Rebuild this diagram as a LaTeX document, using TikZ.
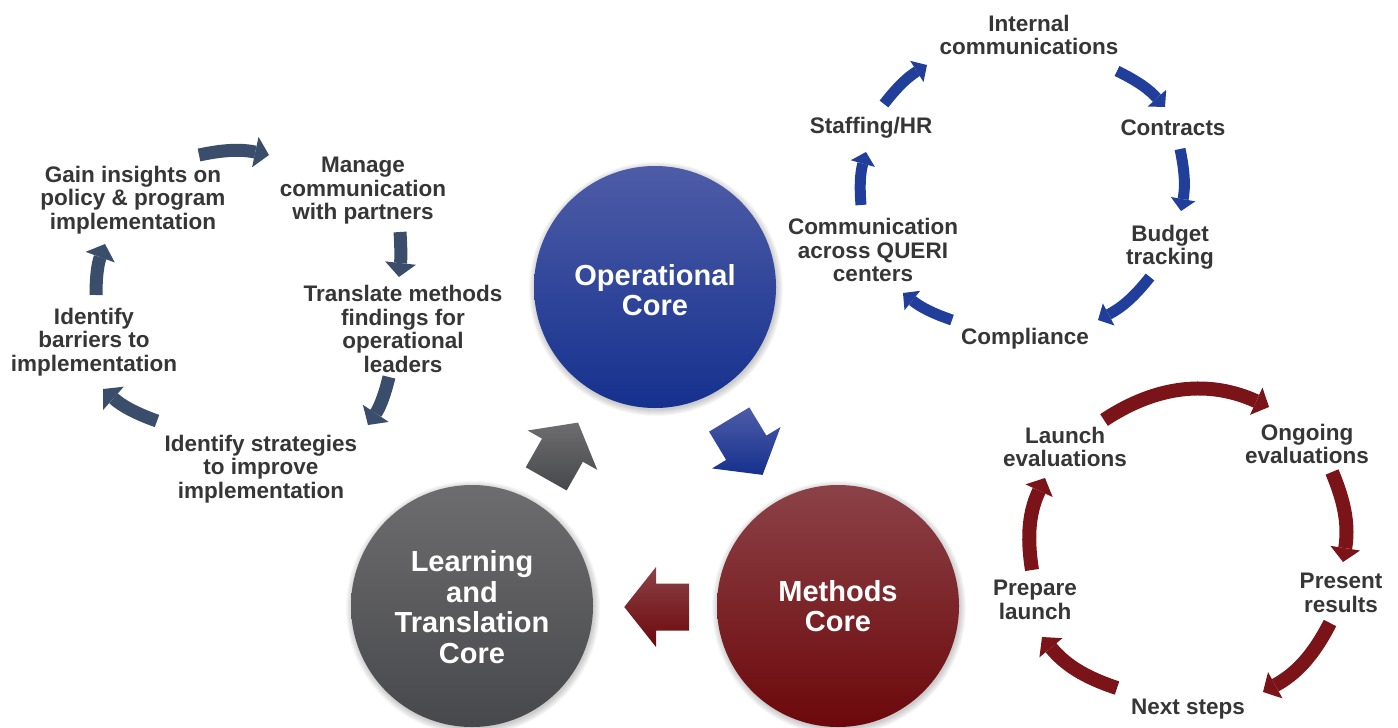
\documentclass[tikz,border=0pt]{standalone}
\usepackage{fontspec}
\setmainfont{Liberation Sans}
\usetikzlibrary{arrows.meta,calc}
\definecolor{txt}{HTML}{363636}
\definecolor{slate}{HTML}{3A4D6B}
\definecolor{blu}{HTML}{213E9B}
\definecolor{rd}{HTML}{7B1418}
\definecolor{opT}{HTML}{4E5CA7}
\definecolor{opM}{HTML}{213C9F}
\definecolor{opB}{HTML}{15318E}
\definecolor{ltT}{HTML}{6D6D6F}
\definecolor{ltB}{HTML}{47484B}
\definecolor{meT}{HTML}{8B4247}
\definecolor{meM}{HTML}{7A141A}
\definecolor{meB}{HTML}{6C080B}
\newcommand\blockarr[4]{%
  \path[top color=#3, bottom color=#4]
  ($(#1)+(#2+90:23.5)$) -- ($(#1)+(#2:33)+(#2+90:23.5)$) -- ($(#1)+(#2:33)+(#2+90:40)$) --
  ($(#1)+(#2:64.7)$) -- ($(#1)+(#2:33)+(#2-90:40)$) -- ($(#1)+(#2:33)+(#2-90:23.5)$) --
  ($(#1)+(#2-90:23.5)$) -- cycle;}
\newcommand\halo[1]{%
  \foreach \i in {1,...,7}{\fill[black,opacity=0.03] ($(#1)+(1,-2)$) circle[radius={120+\i}];}}
\begin{document}
\begin{tikzpicture}[x=1pt,y=1pt,
  lbl/.style={text=txt, font=\fontsize{22.5}{23.5}\selectfont\bfseries, align=center, inner sep=0pt},
  coretext/.style={text=white, font=\fontsize{29}{30.5}\selectfont\bfseries, align=center, inner sep=0pt},
  core/.style={circle, minimum size=242pt, inner sep=0pt},
  slatearr/.style={draw=slate, line width=13pt, -{Triangle[width=31pt,length=14pt,line width=0pt]}},
  bluarr/.style={draw=blu, line width=11pt, -{Triangle[width=25pt,length=12pt,line width=0pt]}},
  rdarr/.style={draw=rd, line width=14pt, -{Triangle[width=30pt,length=14pt,line width=0pt]}}]
\useasboundingbox (0,0) rectangle (1398,-728);

% core circles
\coordinate (opc) at (655,-287);
\coordinate (ltc) at (472,-606);
\coordinate (mec) at (838,-606);
\halo{opc}\halo{ltc}\halo{mec}
\node[core, top color=opT, middle color=opM, bottom color=opB] (op) at (opc) {};
\node[core, top color=ltT, bottom color=ltB] (lt) at (ltc) {};
\node[core, top color=meT, middle color=meM, bottom color=meB] (me) at (mec) {};
\node[coretext] (opt) at (655,-290) {Operational\\Core};
\node[coretext] (ltt) at (472,-607) {Learning\\and\\Translation\\Core};
\node[coretext] (met) at (838,-606) {Methods\\Core};

% block arrows between cores
\coordinate (ga) at (546.2,-478.9);
\coordinate (ba) at (729.2,-419.5);
\coordinate (ra) at (689,-607);
\blockarr{ga}{60.5}{ltT}{ltB}
\blockarr{ba}{-58.9}{opT}{opB}
\blockarr{ra}{180}{meT}{meB}

% left cycle
\node[lbl] (gain) at (133,-200) {Gain insights on\\policy \& program\\implementation};
\node[lbl] (manage) at (363,-191) {Manage\\communication\\with partners};
\node[lbl] (transl) at (403,-329) {Translate methods\\findings for\\operational\\leaders};
\node[lbl] (strat) at (261,-469) {Identify strategies\\to improve\\implementation};
\node[lbl] (barr) at (94,-342) {Identify\\barriers to\\implementation};
\coordinate (s1a) at (199,-155); \coordinate (s1b) at (269,-155);
\coordinate (s2a) at (400,-232); \coordinate (s2b) at (399,-277);
\coordinate (s3a) at (389,-377); \coordinate (s3b) at (368,-425);
\coordinate (s4a) at (157,-421); \coordinate (s4b) at (103,-389);
\coordinate (s5a) at (96,-295);  \coordinate (s5b) at (105,-244);
\draw[slatearr] (s1a) to[bend left=12] (s1b);
\draw[slatearr] (s2a) to[bend left=5] (s2b);
\draw[slatearr] (s3a) to[bend left=10] (s3b);
\draw[slatearr] (s4a) to[bend left=11] (s4b);
\draw[slatearr] (s5a) to[bend left=10] (s5b);

% top-right cycle
\node[lbl] (internal) at (1029,-35) {Internal\\communications};
\node[lbl] (contracts) at (1173,-128) {Contracts};
\node[lbl] (budget) at (1170,-247) {Budget\\tracking};
\node[lbl] (compl) at (1025,-339) {Compliance};
\node[lbl] (comm) at (873,-250) {Communication\\across QUERI\\centers};
\node[lbl] (staff) at (871,-128) {Staffing/HR};
\coordinate (b1a) at (884,-104);  \coordinate (b1b) at (927,-65);
\coordinate (b2a) at (1117,-71);  \coordinate (b2b) at (1165,-107);
\coordinate (b3a) at (1180,-149); \coordinate (b3b) at (1181,-211);
\coordinate (b4a) at (1150,-277); \coordinate (b4b) at (1098,-320);
\coordinate (b5a) at (952,-320);  \coordinate (b5b) at (903,-293);
\coordinate (b6a) at (861,-205);  \coordinate (b6b) at (866,-152);
\draw[bluarr] (b1a) to[bend left=10] (b1b);
\draw[bluarr] (b2a) to[bend left=11] (b2b);
\draw[bluarr] (b3a) to[bend left=11] (b3b);
\draw[bluarr] (b4a) to[bend left=12] (b4b);
\draw[bluarr] (b5a) to[bend left=10] (b5b);
\draw[bluarr] (b6a) to[bend left=10] (b6b);

% bottom-right cycle
\node[lbl] (launch) at (1065,-447) {Launch\\evaluations};
\node[lbl] (ongoing) at (1307,-444) {Ongoing\\evaluations};
\node[lbl] (present) at (1341,-593) {Present\\results};
\node[lbl] (next) at (1188,-709) {Next steps};
\node[lbl] (prepare) at (1035,-600) {Prepare\\launch};
\coordinate (r1a) at (1104,-420); \coordinate (r1b) at (1269,-407);
\coordinate (r2a) at (1332,-472); \coordinate (r2b) at (1343,-562);
\coordinate (r3a) at (1330,-623); \coordinate (r3b) at (1263,-692);
\coordinate (r4a) at (1117,-688); \coordinate (r4b) at (1042,-637);
\coordinate (r5a) at (1032,-570); \coordinate (r5b) at (1045,-478);
\draw[rdarr] (r1a) to[bend left=29] (r1b);
\draw[rdarr] (r2a) to[bend left=16] (r2b);
\draw[rdarr] (r3a) to[bend left=17] (r3b);
\draw[rdarr] (r4a) to[bend left=16] (r4b);
\draw[rdarr] (r5a) to[bend left=17] (r5b);
\end{tikzpicture}
\end{document}
